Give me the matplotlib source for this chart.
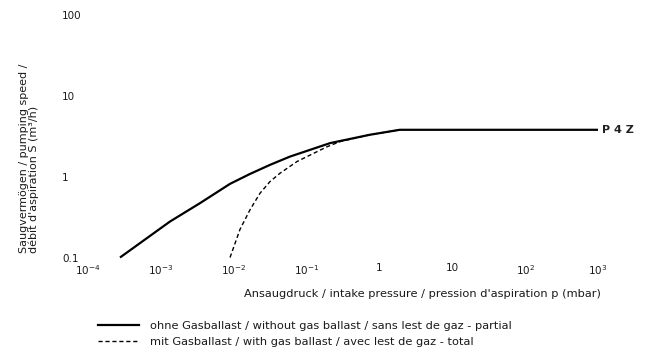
import matplotlib
matplotlib.use("Agg")
import matplotlib.pyplot as plt
from matplotlib.lines import Line2D

# Data (pressure p in mbar, pumping speed S in m^3/h)
solid_p = [2.75e-4, 1.33e-3, 3.44e-3, 8.9e-3, 1.67e-2, 3.15e-2, 5.9e-2, 0.21, 0.74, 1.9, 1000]
solid_s = [0.1, 0.278, 0.47, 0.815, 1.08, 1.40, 1.77, 2.60, 3.30, 3.8, 3.8]
dashed_p = [8.9e-3, 1.22e-2, 1.67e-2, 2.3e-2, 3.15e-2, 4.3e-2, 7.4e-2, 0.19, 0.29, 0.74, 1.9]
dashed_s = [0.1, 0.223, 0.388, 0.625, 0.87, 1.10, 1.54, 2.34, 2.72, 3.30, 3.8]

x_ticks = [1e-4, 1e-3, 1e-2, 1e-1, 1, 10, 100, 1000]
x_tick_labels = [r"$10^{-4}$", r"$10^{-3}$", r"$10^{-2}$", r"$10^{-1}$", "1", "10", r"$10^{2}$", r"$10^{3}$"]
y_ticks = [0.1, 1, 10, 100]
y_tick_labels = ["0.1", "1", "10", "100"]

series_label = "P 4 Z"
legend_labels = [
    "ohne Gasballast / without gas ballast / sans lest de gaz - partial",
    "mit Gasballast / with gas ballast / avec lest de gaz - total",
]
x_label = "Ansaugdruck / intake pressure / pression d'aspiration p (mbar)"
y_label = "Saugvermögen / pumping speed /\ndébit d'aspiration S (m³/h)"

plt.rcParams["mathtext.default"] = "regular"
plt.rcParams["font.family"] = ["DejaVu Sans"]
txt_color = "#1a1a1a"

W, H = 649, 358
fig = plt.figure(figsize=(W / 100, H / 100), dpi=100)
left, right = 88 / W, 598 / W
bottom, top = 1 - 257.5 / H, 1 - 15 / H
ax = fig.add_axes([left, bottom, right - left, top - bottom])
ax.set_xscale("log")
ax.set_yscale("log")
ax.set_xlim(1e-4, 1e3)
ax.set_ylim(0.1, 100)

solid_lw, dash_ls = 1.6, (0, (3, 2))
ax.plot(solid_p, solid_s, color="black", lw=solid_lw, solid_capstyle="butt", clip_on=False, zorder=3)
ax.plot(dashed_p, dashed_s, color="black", lw=1.0, linestyle=dash_ls, clip_on=False, zorder=2)

ax.annotate(series_label, xy=(solid_p[-1], solid_s[-1]), xytext=(3, 0),
            textcoords="offset points", va="center", ha="left",
            fontsize=8, fontweight="bold", color="#222222")

for s in ax.spines.values():
    s.set_visible(False)
ax.minorticks_off()
ax.set_xticks(x_ticks)
ax.set_xticklabels(x_tick_labels, fontsize=7.5, color=txt_color)
ax.set_yticks(y_ticks)
ax.set_yticklabels(y_tick_labels, fontsize=7.5, ha="left", color=txt_color)
ax.tick_params(axis="x", length=0, pad=4)
ax.tick_params(axis="y", length=0, pad=18.5)

fig.text(422 / W, 1 - 294 / H, x_label, ha="center", va="center", fontsize=8.2, color=txt_color)
fig.text(29 / W, 1 - 158 / H, y_label, ha="center", va="center", rotation=90,
         multialignment="left", fontsize=8.0, linespacing=1.0, color=txt_color)

handles = [Line2D([], [], color="black", lw=solid_lw),
           Line2D([], [], color="black", lw=1.0, linestyle=dash_ls)]
leg = fig.legend(handles, legend_labels, loc="upper left",
                 bbox_to_anchor=(98 / W, 1 - 321 / H), frameon=False, fontsize=8.2,
                 handlelength=3.6, handletextpad=1.0, labelspacing=0.55,
                 borderpad=0, borderaxespad=0)
for t in leg.get_texts():
    t.set_color(txt_color)

fig.savefig("out.png", dpi=100)
